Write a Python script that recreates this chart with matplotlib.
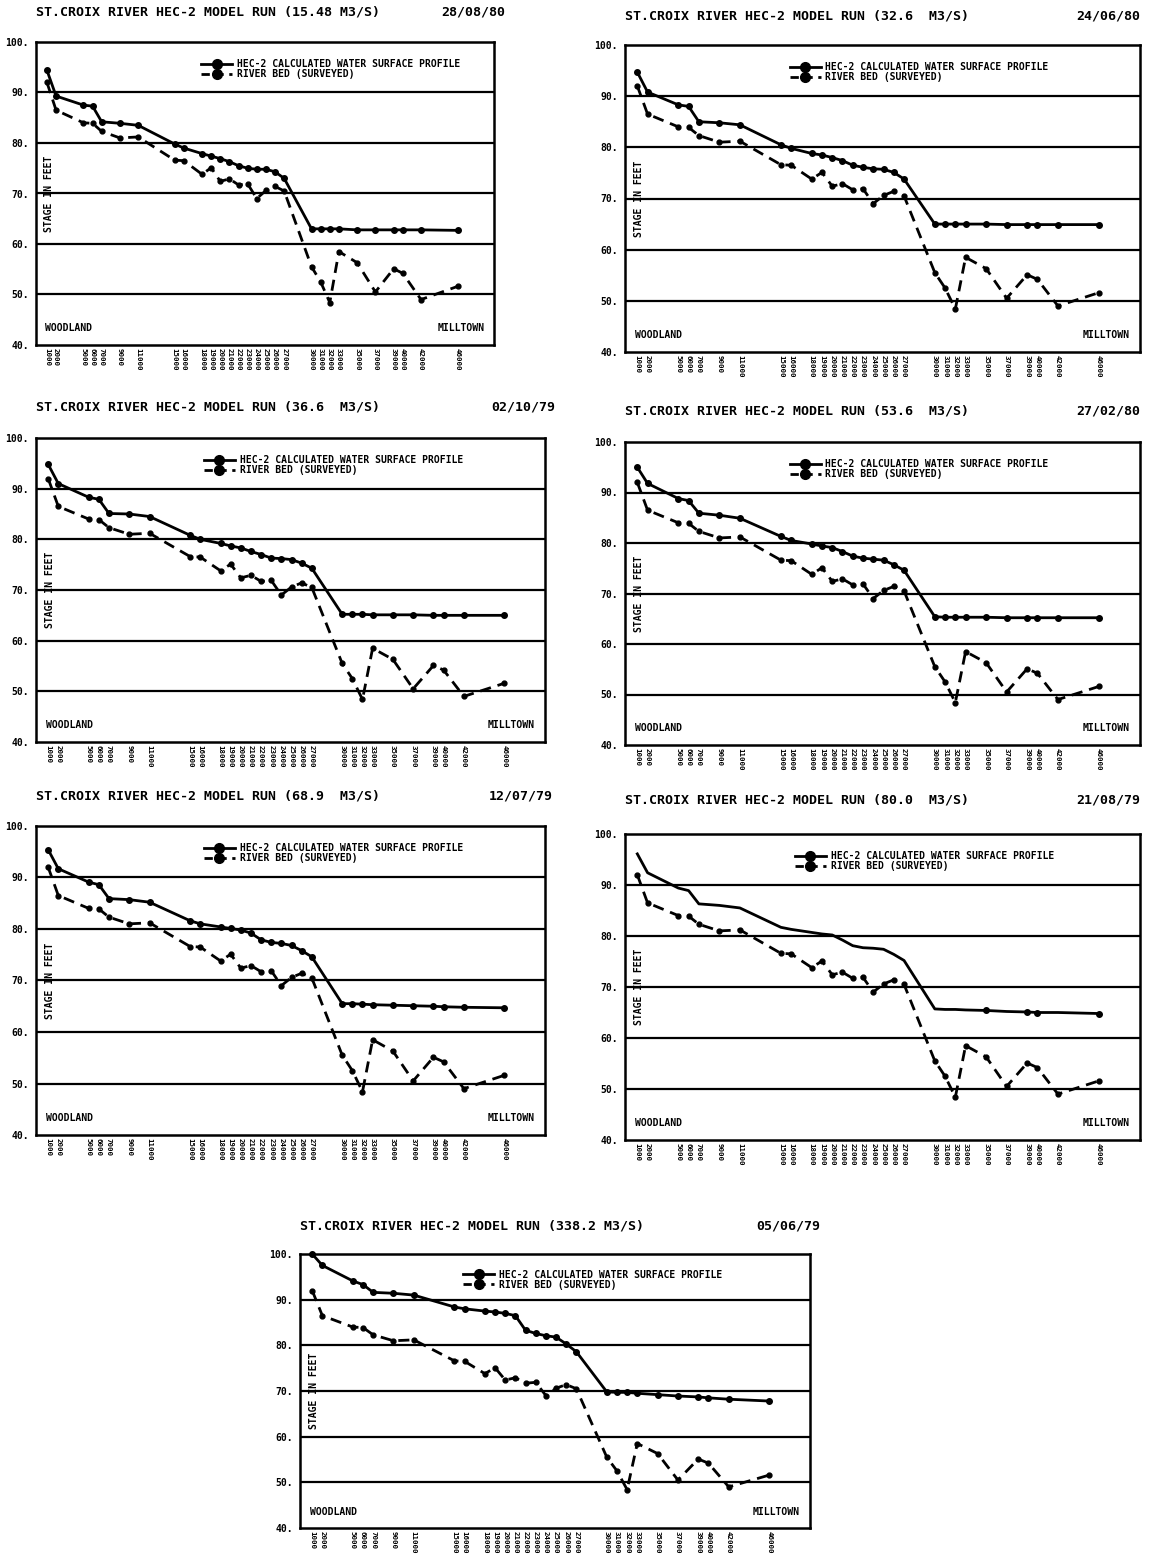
import matplotlib
matplotlib.use('Agg')
import matplotlib.pyplot as plt
from matplotlib.lines import Line2D

plt.rcParams['font.family'] = 'DejaVu Sans Mono'
plt.rcParams['font.weight'] = 'bold'

# river stations (ft) from Woodland down to Milltown
stations = [1000, 2000, 5000, 6000, 7000, 9000, 11000, 15000, 16000, 18000,
            19000, 20000, 21000, 22000, 23000, 24000, 25000, 26000, 27000,
            30000, 31000, 32000, 33000, 35000, 37000, 39000, 40000, 42000, 46000]

# surveyed river bed, same in every run
river_bed = [92.0, 86.5, 84.0, 83.9, 82.3, 81.0, 81.2, 76.6, 76.5, 73.8,
             75.1, 72.4, 72.9, 71.7, 71.9, 69.0, 70.6, 71.4, 70.5,
             55.5, 52.5, 48.4, 58.5, 56.3, 50.5, 55.1, 54.2, 49.0, 51.6]

# HEC-2 water surface profiles, one per flow
ws_15_48 = [94.4, 89.3, 87.5, 87.3, 84.2, 83.9, 83.5, 79.8, 79.0, 77.9,
            77.4, 76.9, 76.3, 75.5, 75.0, 74.8, 74.8, 74.3, 73.0,
            63.0, 63.0, 63.0, 63.0, 62.8, 62.8, 62.8, 62.8, 62.8, 62.7]
ws_32_6 = [94.7, 90.8, 88.3, 88.0, 85.0, 84.8, 84.4, 80.5, 79.8, 78.8,
           78.5, 78.0, 77.4, 76.5, 76.1, 75.8, 75.7, 75.1, 73.8,
           65.0, 65.0, 65.0, 65.0, 65.0, 64.9, 64.9, 64.9, 64.9, 64.9]
ws_36_6 = [94.8, 91.0, 88.3, 87.9, 85.1, 85.0, 84.5, 80.8, 80.0, 79.2,
           78.7, 78.3, 77.6, 77.0, 76.3, 76.2, 76.0, 75.3, 74.3,
           65.2, 65.2, 65.2, 65.1, 65.1, 65.1, 65.0, 65.0, 65.0, 65.0]
ws_53_6 = [95.0, 91.8, 88.8, 88.4, 85.9, 85.5, 84.9, 81.3, 80.5, 79.8,
           79.4, 79.1, 78.3, 77.4, 77.0, 76.8, 76.6, 75.7, 74.6,
           65.4, 65.3, 65.3, 65.3, 65.3, 65.2, 65.2, 65.2, 65.2, 65.2]
ws_68_9 = [95.4, 91.7, 89.1, 88.6, 85.9, 85.7, 85.2, 81.6, 81.0, 80.4,
           80.1, 79.8, 79.2, 77.9, 77.4, 77.2, 76.8, 75.8, 74.6,
           65.5, 65.5, 65.4, 65.3, 65.2, 65.1, 65.0, 64.9, 64.8, 64.7]
ws_80_0 = [96.1, 92.4, 89.4, 88.9, 86.3, 86.0, 85.5, 81.7, 81.3, 80.7,
           80.4, 80.2, 79.2, 78.1, 77.7, 77.6, 77.4, 76.4, 75.2,
           65.7, 65.6, 65.6, 65.5, 65.4, 65.2, 65.1, 65.0, 65.0, 64.8]
ws_338_2 = [100.0, 97.5, 94.1, 93.3, 91.6, 91.4, 91.0, 88.4, 88.0, 87.5,
            87.3, 87.0, 86.5, 83.3, 82.6, 82.1, 81.8, 80.3, 78.6,
            69.8, 69.7, 69.7, 69.5, 69.2, 68.9, 68.7, 68.5, 68.2, 67.8]

flows = ["15.48", "32.6 ", "36.6 ", "53.6 ", "68.9 ", "80.0 ", "338.2"]
dates = ["28/08/80", "24/06/80", "02/10/79", "27/02/80", "12/07/79", "21/08/79", "05/06/79"]
profiles = [ws_15_48, ws_32_6, ws_36_6, ws_53_6, ws_68_9, ws_80_0, ws_338_2]

W, H = 1149, 1568
fig = plt.figure(figsize=(W / 100, H / 100), dpi=100)

# axes boxes in pixels: left, top, right, bottom; title row y; date right edge; legend x
layout = [
    (36, 42, 494, 345, 12, 505, 0.35),
    (625, 45, 1140, 352, 16, 1140, 0.31),
    (36, 438, 545, 742, 407, 555, 0.32),
    (625, 442, 1140, 745, 411, 1140, 0.31),
    (36, 826, 545, 1135, 796, 553, 0.32),
    (625, 834, 1140, 1140, 800, 1140, 0.32),
    (300, 1254, 810, 1528, 1226, 820, 0.31),
]

ws_marks = [None, None, None, None, None, [23, 25, 26, 28], None]

for i, (l, t, r, b, ty, dx, lx) in enumerate(layout):
    ax = fig.add_axes([l / W, 1 - b / H, (r - l) / W, (b - t) / H])
    ax.set_xlim(-200, 50000)
    ax.set_ylim(40, 100)

    for g in [50, 60, 70, 80, 90]:
        ax.axhline(g, color='black', lw=1.6, zorder=1)

    ax.plot(stations, profiles[i], color='black', lw=2.0, marker='o', ms=4,
            markevery=ws_marks[i], clip_on=False, zorder=3)
    ax.plot(stations, river_bed, color='black', lw=2.0, ls=(0, (4, 2.5)),
            marker='o', ms=3.5, clip_on=False, zorder=3)

    for s in ax.spines.values():
        s.set_linewidth(1.8)

    ax.set_yticks(range(40, 101, 10))
    ax.set_yticklabels([f"{v}." for v in range(40, 101, 10)], fontsize=7)
    ax.tick_params(axis='y', length=0, pad=5)
    ax.set_xticks(stations)
    ax.set_xticklabels([str(s) for s in stations], rotation=270, fontsize=5.3,
                       va='top', ha='center')
    ax.tick_params(axis='x', length=0, pad=2)

    ax.text(0.018, 70, "STAGE IN FEET", rotation=90, fontsize=7,
            transform=ax.get_yaxis_transform(), va='center', ha='left')
    ax.text(0.02, 0.04, "WOODLAND", fontsize=7, transform=ax.transAxes,
            va='bottom', ha='left')
    ax.text(0.98, 0.04, "MILLTOWN", fontsize=7, transform=ax.transAxes,
            va='bottom', ha='right')

    handles = [
        Line2D([], [], color='black', lw=2.0, marker='o', ms=7),
        Line2D([], [], color='black', lw=2.0, ls=(0, (3, 2)), marker='o', ms=7),
    ]
    ax.legend(handles, ["HEC-2 CALCULATED WATER SURFACE PROFILE",
                        "RIVER BED (SURVEYED)"],
              loc='upper left', bbox_to_anchor=(lx, 0.96), frameon=False,
              fontsize=7, handlelength=3.2, handletextpad=0.5,
              labelspacing=0.0, borderpad=0, numpoints=1)

    fig.text(l / W, 1 - ty / H, f"ST.CROIX RIVER HEC-2 MODEL RUN ({flows[i]} M3/S)",
             fontsize=9.5, va='center', ha='left')
    fig.text(dx / W, 1 - ty / H, dates[i], fontsize=9.5, va='center', ha='right')

fig.savefig("out.png", dpi=100)
